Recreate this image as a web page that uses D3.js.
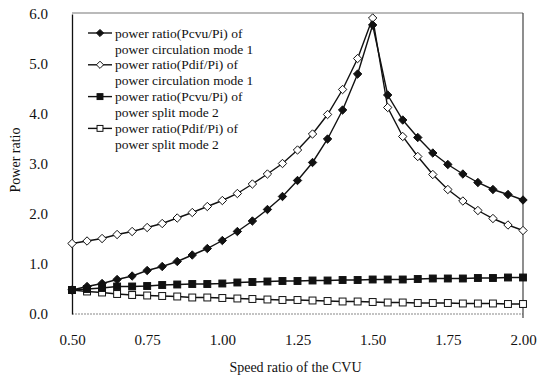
<!DOCTYPE html>
<html>
<head>
<meta charset="utf-8">
<script src="https://cdnjs.cloudflare.com/ajax/libs/d3/7.8.5/d3.min.js"></script>
<style>
  body { margin: 0; background: #fff; }
  text { font-family: "Liberation Serif", "Times New Roman", serif; fill: #111; }
</style>
</head>
<body>
<script>
// speed ratio of the CVU, every 0.05 from 0.50 to 2.00
var speedRatio = d3.range(31).map(i => +(0.5 + i * 0.05).toFixed(2));

var pcvuMode1 = [0.48, 0.55, 0.61, 0.69, 0.76, 0.87, 0.95, 1.05, 1.18, 1.31,
                 1.47, 1.65, 1.86, 2.09, 2.35, 2.67, 3.03, 3.50, 4.08, 4.80,
                 5.78, 4.38, 3.88, 3.53, 3.22, 2.99, 2.80, 2.63, 2.49, 2.39, 2.28];
var pdifMode1 = [1.41, 1.46, 1.51, 1.59, 1.65, 1.73, 1.81, 1.92, 2.03, 2.15,
                 2.27, 2.41, 2.60, 2.80, 3.01, 3.28, 3.60, 3.99, 4.49, 5.11,
                 5.92, 4.13, 3.55, 3.15, 2.79, 2.49, 2.26, 2.07, 1.91, 1.78, 1.67];
var pcvuMode2 = [0.48, 0.50, 0.52, 0.55, 0.55, 0.56, 0.58, 0.59, 0.60, 0.60,
                 0.61, 0.63, 0.64, 0.65, 0.66, 0.66, 0.67, 0.67, 0.68, 0.68,
                 0.69, 0.69, 0.69, 0.70, 0.71, 0.71, 0.71, 0.72, 0.72, 0.73, 0.73];
var pdifMode2 = [0.48, 0.45, 0.43, 0.40, 0.38, 0.37, 0.36, 0.35, 0.33, 0.33,
                 0.32, 0.31, 0.30, 0.29, 0.28, 0.28, 0.27, 0.26, 0.25, 0.25,
                 0.24, 0.23, 0.23, 0.22, 0.22, 0.22, 0.21, 0.21, 0.21, 0.20, 0.20];

var legendLabels = [
    ["power ratio(Pcvu/Pi) of", "power circulation mode 1"],
    ["power ratio(Pdif/Pi) of", "power circulation mode 1"],
    ["power ratio(Pcvu/Pi) of", "power split mode 2"],
    ["power ratio(Pdif/Pi) of", "power split mode 2"]
];
var xTicks = [0.5, 0.75, 1.0, 1.25, 1.5, 1.75, 2.0];
var yTicks = [0, 1, 2, 3, 4, 5, 6];

var series = [
    {values: pcvuMode1, shape: "diamond", fill: "#111"},
    {values: pdifMode1, shape: "diamond", fill: "#fff"},
    {values: pcvuMode2, shape: "square", fill: "#111"},
    {values: pdifMode2, shape: "square", fill: "#fff"}
];

var svgWidth = 546, svgHeight = 376;
var margin = {top: 14, right: 23, bottom: 62, left: 72};
var width = svgWidth - margin.left - margin.right,
    height = svgHeight - margin.top - margin.bottom;

var svg = d3.select("body").append("svg")
    .attr("width", svgWidth)
    .attr("height", svgHeight);

var g = svg.append("g")
    .attr("transform", "translate(" + margin.left + "," + margin.top + ")");

var x = d3.scaleLinear().domain([0.5, 2.0]).range([0, width]);
var y = d3.scaleLinear().domain([0, 6]).range([height, 0]);

// frame: top/bottom grey, sides dark
g.append("line").attr("x1", 0).attr("x2", width).attr("y1", -1).attr("y2", -1)
    .attr("stroke", "#777").attr("stroke-width", 1.2);
g.append("line").attr("x1", 0).attr("x2", width).attr("y1", height).attr("y2", height)
    .attr("stroke", "#888").attr("stroke-width", 1.2).attr("stroke-dasharray", "2,1");
g.append("line").attr("x1", width).attr("x2", width).attr("y1", -1).attr("y2", height + 4)
    .attr("stroke", "#444").attr("stroke-width", 1.2);

// axes without tick marks
var xAxis = g.append("g")
    .attr("transform", "translate(0," + height + ")")
    .call(d3.axisBottom(x).tickValues(xTicks).tickSize(0).tickPadding(20)
        .tickFormat(d3.format(".2f")));
xAxis.select(".domain").remove();
xAxis.selectAll("text").style("font-size", "15px").style("font-family", "Liberation Serif");

var yAxis = g.append("g")
    .call(d3.axisLeft(y).tickValues(yTicks).tickSize(0).tickPadding(24)
        .tickFormat(d3.format(".1f")));
yAxis.select(".domain").attr("stroke", "#111").attr("stroke-width", 1.3);
yAxis.selectAll("text").style("font-size", "15px").style("font-family", "Liberation Serif");

svg.append("text")
    .attr("x", margin.left + width / 2 - 2)
    .attr("y", 372)
    .attr("text-anchor", "middle")
    .style("font-size", "14px")
    .text("Speed ratio of the CVU");

svg.append("text")
    .attr("transform", "translate(20," + (margin.top + height / 2 - 4) + ") rotate(-90)")
    .attr("text-anchor", "middle")
    .style("font-size", "14px")
    .text("Power ratio");

var line = d3.line()
    .x((d, i) => x(speedRatio[i]))
    .y(d => y(d));

function marker(sel, shape, fill, r) {
    if (shape === "diamond") {
        sel.append("path")
            .attr("d", "M0," + (-r) + "L" + r + ",0L0," + r + "L" + (-r) + ",0Z")
            .attr("fill", fill).attr("stroke", "#111").attr("stroke-width", 1);
    } else {
        var h = r * 0.82;
        sel.append("rect")
            .attr("x", -h).attr("y", -h).attr("width", 2 * h).attr("height", 2 * h)
            .attr("fill", fill).attr("stroke", "#111").attr("stroke-width", 1);
    }
}

// draw mode 2 first so mode 1 markers sit on top
series.slice().reverse().forEach(function(s) {
    g.append("path")
        .datum(s.values)
        .attr("fill", "none")
        .attr("stroke", "#111")
        .attr("stroke-width", 1.4)
        .attr("d", line);
    g.selectAll(null)
        .data(s.values)
        .enter().append("g")
        .attr("transform", (d, i) => "translate(" + x(speedRatio[i]) + "," + y(d) + ")")
        .each(function() { marker(d3.select(this), s.shape, s.fill, 4.2); });
});

// legend
var legend = svg.append("g").attr("transform", "translate(88,33)");
series.forEach(function(s, i) {
    var row = legend.append("g").attr("transform", "translate(0," + (i * 31.8) + ")");
    row.append("line").attr("x1", 0).attr("x2", 24).attr("y1", 0).attr("y2", 0)
        .attr("stroke", "#111").attr("stroke-width", 1.4);
    var m = row.append("g").attr("transform", "translate(12,0)");
    marker(m, s.shape, s.fill, 3.6);
    row.append("text").attr("x", 27).attr("y", 4.5)
        .style("font-size", "13.5px").text(legendLabels[i][0]);
    row.append("text").attr("x", 27).attr("y", 20.5)
        .style("font-size", "13.5px").text(legendLabels[i][1]);
});
</script>
</body>
</html>
